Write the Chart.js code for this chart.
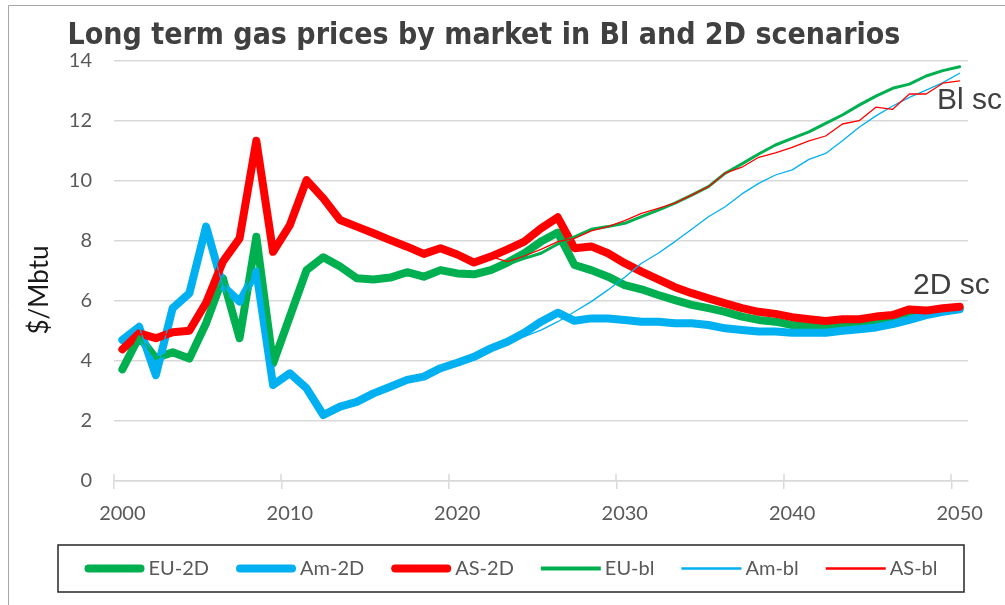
<!DOCTYPE html>
<html>
<head>
<meta charset="utf-8">
<title>Long term gas prices</title>
<script src="https://cdn.jsdelivr.net/npm/chart.js@4.4.1/dist/chart.umd.min.js"></script>
<style>
  html, body { margin: 0; padding: 0; background: #fff; }
  #wrap { width: 1005px; height: 605px; position: relative; }
</style>
</head>
<body>
<div id="wrap"><canvas id="gasChart"></canvas></div>
<script>
// categories
const years = [2000, 2001, 2002, 2003, 2004, 2005, 2006, 2007, 2008, 2009,
  2010, 2011, 2012, 2013, 2014, 2015, 2016, 2017, 2018, 2019,
  2020, 2021, 2022, 2023, 2024, 2025, 2026, 2027, 2028, 2029,
  2030, 2031, 2032, 2033, 2034, 2035, 2036, 2037, 2038, 2039,
  2040, 2041, 2042, 2043, 2044, 2045, 2046, 2047, 2048, 2049, 2050];

// 2D scenario ($/Mbtu)
const euTwoD = [3.72, 4.81, 4.09, 4.29, 4.08, 5.26, 6.76, 4.76, 8.14, 3.92,
  5.48, 7.03, 7.46, 7.15, 6.76, 6.72, 6.78, 6.96, 6.81, 7.03,
  6.92, 6.89, 7.03, 7.28, 7.59, 7.98, 8.28, 7.20, 7.03, 6.81,
  6.53, 6.39, 6.20, 6.03, 5.87, 5.76, 5.64, 5.48, 5.37, 5.31,
  5.20, 5.17, 5.17, 5.20, 5.23, 5.31, 5.39, 5.50, 5.57, 5.68, 5.76];
const amTwoD = [4.70, 5.14, 3.53, 5.76, 6.26, 8.48, 6.50, 5.98, 6.98, 3.20,
  3.59, 3.09, 2.20, 2.48, 2.64, 2.92, 3.14, 3.37, 3.48, 3.76,
  3.94, 4.14, 4.42, 4.64, 4.94, 5.31, 5.61, 5.34, 5.42, 5.42,
  5.37, 5.31, 5.31, 5.26, 5.26, 5.20, 5.09, 5.03, 4.98, 4.98,
  4.94, 4.94, 4.94, 5.01, 5.06, 5.12, 5.23, 5.37, 5.53, 5.64, 5.72];
const asTwoD = [4.39, 4.92, 4.76, 4.96, 5.01, 5.94, 7.31, 8.09, 11.34, 7.64,
  8.53, 10.03, 9.42, 8.70, 8.48, 8.26, 8.03, 7.81, 7.57, 7.76,
  7.55, 7.28, 7.48, 7.72, 7.98, 8.42, 8.79, 7.76, 7.82, 7.59,
  7.26, 6.98, 6.72, 6.46, 6.26, 6.09, 5.92, 5.76, 5.64, 5.57,
  5.46, 5.39, 5.33, 5.39, 5.39, 5.48, 5.53, 5.72, 5.68, 5.76, 5.81];

// baseline scenario ($/Mbtu)
const euBl = [3.72, 4.81, 4.09, 4.29, 4.08, 5.26, 6.76, 4.76, 8.14, 3.92,
  5.48, 7.03, 7.46, 7.15, 6.76, 6.72, 6.78, 6.96, 6.81, 7.03,
  6.92, 6.89, 7.03, 7.23, 7.42, 7.59, 7.90, 8.14, 8.39, 8.48,
  8.59, 8.81, 9.03, 9.26, 9.53, 9.81, 10.26, 10.57, 10.90, 11.20,
  11.42, 11.64, 11.92, 12.20, 12.53, 12.83, 13.09, 13.23, 13.50, 13.68, 13.81];
const amBl = [4.70, 5.14, 3.53, 5.76, 6.26, 8.48, 6.50, 5.98, 6.98, 3.20,
  3.59, 3.09, 2.20, 2.48, 2.64, 2.92, 3.14, 3.37, 3.48, 3.76,
  3.94, 4.14, 4.42, 4.64, 4.81, 5.03, 5.31, 5.64, 5.98, 6.37,
  6.79, 7.26, 7.59, 7.98, 8.39, 8.81, 9.14, 9.57, 9.92, 10.20,
  10.37, 10.72, 10.92, 11.34, 11.79, 12.17, 12.50, 12.79, 13.03, 13.28, 13.59];
const asBl = [4.39, 4.92, 4.76, 4.96, 5.01, 5.94, 7.31, 8.09, 11.34, 7.64,
  8.53, 10.03, 9.42, 8.70, 8.48, 8.26, 8.03, 7.81, 7.57, 7.76,
  7.55, 7.28, 7.48, 7.31, 7.50, 7.72, 7.98, 8.09, 8.34, 8.48,
  8.68, 8.92, 9.09, 9.26, 9.53, 9.81, 10.26, 10.46, 10.79, 10.94,
  11.12, 11.34, 11.50, 11.90, 12.01, 12.46, 12.39, 12.90, 12.90, 13.26, 13.34];

const seriesNames = ['EU-2D', 'Am-2D', 'AS-2D', 'EU-bl', 'Am-bl', 'AS-bl'];
const sceneLabels = ['Bl sc', '2D sc'];
const yTitle = '$/Mbtu';

const green = '#00b050';
const blue = '#00b0f0';
const red = '#ff0000';
const labelFont = 'Lato, "Open Sans", sans-serif';

// one line dataset, Excel draws later series on top so order runs backwards
function lineSet(label, data, color, width, order) {
    return {
        label: label,
        data: data,
        borderColor: color,
        backgroundColor: color,
        borderWidth: width,
        pointRadius: 0,
        pointHoverRadius: 0,
        tension: 0,
        borderJoinStyle: 'round',
        borderCapStyle: 'round',
        order: order
    };
}

// frame, axis title, scenario labels and the boxed legend
const extras = {
    id: 'extras',
    beforeDraw(chart) {
        const ctx = chart.ctx;
        ctx.save();
        ctx.fillStyle = '#ffffff';
        ctx.fillRect(0, 0, chart.width, chart.height);
        ctx.strokeStyle = '#a6a6a6';
        ctx.lineWidth = 1;
        ctx.beginPath();
        ctx.moveTo(8.5, chart.height);
        ctx.lineTo(8.5, 5.5);
        ctx.lineTo(chart.width, 5.5);
        ctx.stroke();
        ctx.restore();
    },
    afterDraw(chart) {
        const ctx = chart.ctx;
        const yScale = chart.scales.y;
        const area = chart.chartArea;
        ctx.save();

        // small upward part of the x tick marks
        ctx.strokeStyle = '#d9d9d9';
        ctx.lineWidth = 1.5;
        chart.scales.x.ticks.forEach((t, i) => {
            if (years[i] % 10 !== 0) return;
            const px = Math.round(chart.scales.x.getPixelForTick(i) - (chart.scales.x.getPixelForTick(1) - chart.scales.x.getPixelForTick(0)) / 2);
            ctx.beginPath();
            ctx.moveTo(px, area.bottom);
            ctx.lineTo(px, area.bottom - 7);
            ctx.stroke();
        });

        // y axis title
        ctx.save();
        ctx.translate(40, 290);
        ctx.rotate(-Math.PI / 2);
        ctx.font = '26px ' + labelFont;
        ctx.fillStyle = '#1a1a1a';
        ctx.textAlign = 'center';
        ctx.textBaseline = 'middle';
        ctx.fillText(yTitle, 0, 0);
        ctx.restore();

        // scenario tags at the right end of the lines
        ctx.font = '30px "Liberation Sans", Arial, sans-serif';
        ctx.fillStyle = '#404040';
        ctx.textBaseline = 'alphabetic';
        ctx.fillText(sceneLabels[0], area.right - 31, yScale.getPixelForValue(12.4));
        ctx.fillText(sceneLabels[1], area.right - 55, yScale.getPixelForValue(6.25));

        // legend
        const box = { left: 58, right: 964, top: 545, bottom: 592 };
        ctx.strokeStyle = '#262626';
        ctx.lineWidth = 1.5;
        ctx.strokeRect(box.left, box.top, box.right - box.left, box.bottom - box.top);

        ctx.font = '20px ' + labelFont;
        const lineLen = 60, gapText = 4, gapItem = 27;
        const sets = chart.data.datasets;
        const widths = sets.map(ds => ctx.measureText(ds.label).width);
        let total = gapItem * (sets.length - 1);
        widths.forEach(w => { total += lineLen + gapText + w; });
        let x = (box.left + box.right) / 2 - total / 2;
        const y = (box.top + box.bottom) / 2;

        sets.forEach((ds, i) => {
            const thick = ds.borderWidth > 4;
            const inset = thick ? ds.borderWidth / 2 : 0;
            ctx.strokeStyle = ds.borderColor;
            ctx.lineWidth = thick ? ds.borderWidth : ds.borderWidth + 1;
            ctx.lineCap = thick ? 'round' : 'butt';
            ctx.beginPath();
            ctx.moveTo(x + inset, y);
            ctx.lineTo(x + lineLen - inset, y);
            ctx.stroke();
            ctx.fillStyle = '#595959';
            ctx.textBaseline = 'middle';
            ctx.textAlign = 'left';
            ctx.fillText(ds.label, x + lineLen + gapText, y);
            x += lineLen + gapText + widths[i] + gapItem;
        });
        ctx.restore();
    }
};

const ctx = document.getElementById('gasChart').getContext('2d');
const gasChart = new Chart(ctx, {
    type: 'line',
    data: {
        labels: years,
        datasets: [
            lineSet(seriesNames[0], euTwoD, green, 8, 6),
            lineSet(seriesNames[1], amTwoD, blue, 8, 5),
            lineSet(seriesNames[2], asTwoD, red, 8, 4),
            lineSet(seriesNames[3], euBl, green, 3, 3),
            lineSet(seriesNames[4], amBl, blue, 1.3, 2),
            lineSet(seriesNames[5], asBl, red, 1.3, 1)
        ]
    },
    options: {
        responsive: true,
        maintainAspectRatio: false,
        animation: false,
        layout: { padding: { left: 0, right: 37, top: 0, bottom: 79 } },
        plugins: {
            legend: { display: false },
            tooltip: { enabled: false },
            title: {
                display: true,
                text: 'Long term gas prices by market in Bl and 2D scenarios',
                color: '#404040',
                font: { family: '"Liberation Sans Narrow", "DejaVu Sans Condensed", "Liberation Sans", sans-serif', size: 30, weight: 'bold' },
                padding: { top: 18, bottom: 7 }
            }
        },
        scales: {
            x: {
                type: 'category',
                offset: true,
                grid: {
                    display: true,
                    drawOnChartArea: false,
                    drawTicks: true,
                    tickLength: 8,
                    offset: true,
                    lineWidth: 1.5,
                    color: c => (years[c.index] % 10 === 0) ? '#d9d9d9' : 'rgba(0,0,0,0)'
                },
                border: { display: true, color: '#d9d9d9', width: 1.5 },
                ticks: {
                    autoSkip: false,
                    maxRotation: 0,
                    padding: 13,
                    color: '#595959',
                    font: { family: labelFont, size: 20 },
                    callback: (value, index) => (years[index] % 10 === 0 ? String(years[index]) : '')
                },
                afterFit: scale => { scale.height = 45; }
            },
            y: {
                min: 0,
                max: 14,
                ticks: {
                    stepSize: 2,
                    padding: 22,
                    color: '#595959',
                    font: { family: labelFont, size: 20 }
                },
                grid: { color: '#d9d9d9', lineWidth: 1.5, drawTicks: false },
                border: { display: false },
                afterFit: scale => { scale.width = 114; }
            }
        }
    },
    plugins: [extras]
});
</script>
</body>
</html>
